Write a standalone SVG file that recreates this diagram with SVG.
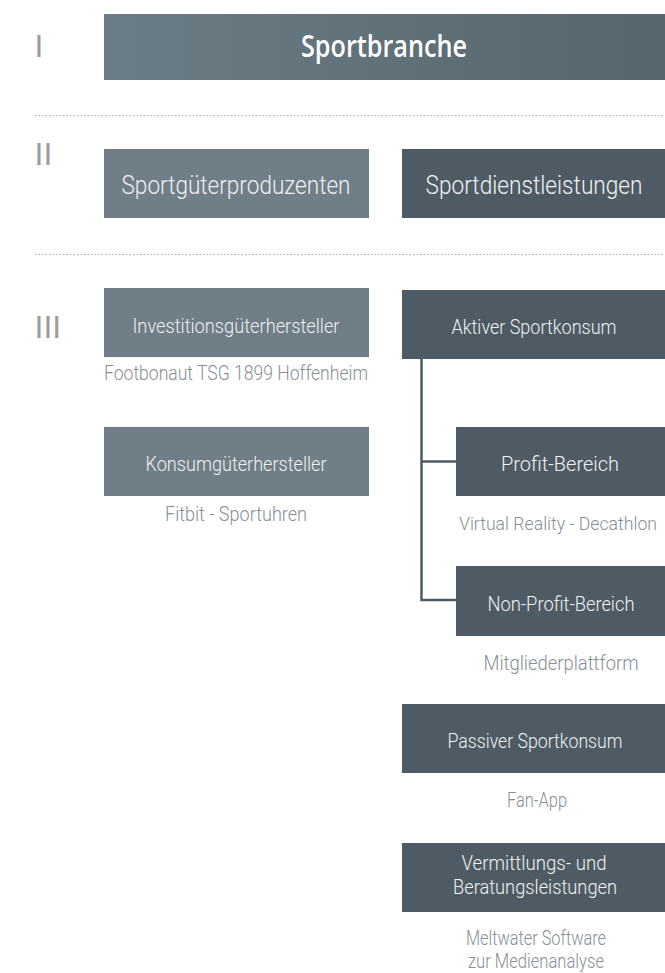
<svg xmlns="http://www.w3.org/2000/svg" width="665" height="973" viewBox="0 0 665 973">
<defs>
<linearGradient id="tg" x1="0" y1="0" x2="1" y2="0">
<stop offset="0" stop-color="#6b7d86"/>
<stop offset="1" stop-color="#56656e"/>
</linearGradient>
<style>
.t{font-family:Roboto,"Liberation Sans",sans-serif;font-weight:300;fill:#eef1f2;text-anchor:middle;font-size:20px}
.big{font-size:25px}
.h{font-family:"Open Sans",Roboto,sans-serif;font-weight:600;fill:#ffffff;text-anchor:middle;font-size:30px}
.c{font-family:Roboto,"Liberation Sans",sans-serif;font-weight:300;fill:#878f95;text-anchor:middle;font-size:20px}
.cs{font-size:18px}
.r{font-family:"Liberation Sans",sans-serif;font-weight:400;fill:#9c9c9c;font-size:32px}
.l{fill:#6f7e87}
.d{fill:#4e5b64}
.dot{stroke:#aab1b6;stroke-width:1;stroke-dasharray:1.5 2}
.con{stroke:#4e5b64;stroke-width:2.5;fill:none}
</style>
</defs>
<rect width="665" height="973" fill="#ffffff"/>
<text class="r" x="34.5" y="57">I</text>
<text class="r" x="34.5" y="165">II</text>
<text class="r" x="34.5" y="337.5">III</text>
<line class="dot" x1="35" y1="115.5" x2="665" y2="115.5"/>
<line class="dot" x1="35" y1="254.5" x2="665" y2="254.5"/>
<g id="connectors">
<polyline class="con" points="421.5,359 421.5,600 456,600"/>
<line class="con" x1="421.5" y1="461.5" x2="456" y2="461.5"/>
</g>
<g id="sportbranche">
<rect x="104" y="14" width="561" height="66" fill="url(#tg)"/>
<text class="h" x="384" y="57" textLength="166" lengthAdjust="spacingAndGlyphs">Sportbranche</text>
</g>
<g id="sportgueterproduzenten">
<rect class="l" x="104" y="149" width="265" height="69"/>
<text class="t big" x="236" y="194" textLength="229" lengthAdjust="spacingAndGlyphs">Sportgüterproduzenten</text>
</g>
<g id="sportdienstleistungen">
<rect class="d" x="402" y="149" width="263" height="69"/>
<text class="t big" x="534" y="194" textLength="217" lengthAdjust="spacingAndGlyphs">Sportdienstleistungen</text>
</g>
<g id="investitionsgueterhersteller">
<rect class="l" x="104" y="288" width="265" height="69"/>
<text class="t" x="236" y="332.5" textLength="207" lengthAdjust="spacingAndGlyphs">Investitionsgüterhersteller</text>
<text class="c" x="236" y="380" textLength="264" lengthAdjust="spacingAndGlyphs">Footbonaut TSG 1899 Hoffenheim</text>
</g>
<g id="konsumgueterhersteller">
<rect class="l" x="104" y="427" width="265" height="69"/>
<text class="t" x="236" y="471" textLength="181" lengthAdjust="spacingAndGlyphs">Konsumgüterhersteller</text>
<text class="c" x="236" y="521" textLength="142" lengthAdjust="spacingAndGlyphs">Fitbit - Sportuhren</text>
</g>
<g id="aktiver">
<rect class="d" x="402" y="290" width="263" height="69"/>
<text class="t" x="534" y="334" textLength="165" lengthAdjust="spacingAndGlyphs">Aktiver Sportkonsum</text>
</g>
<g id="profit">
<rect class="d" x="456" y="427" width="209" height="69"/>
<text class="t" x="560" y="471" textLength="118" lengthAdjust="spacingAndGlyphs">Profit-Bereich</text>
<text class="c cs" x="558" y="530" textLength="198" lengthAdjust="spacingAndGlyphs">Virtual Reality - Decathlon</text>
</g>
<g id="nonprofit">
<rect class="d" x="456" y="566" width="209" height="70"/>
<text class="t" x="561" y="610.5" textLength="147" lengthAdjust="spacingAndGlyphs">Non-Profit-Bereich</text>
<text class="c" x="561" y="670" textLength="155" lengthAdjust="spacingAndGlyphs">Mitgliederplattform</text>
</g>
<g id="passiver">
<rect class="d" x="402" y="704" width="263" height="69"/>
<text class="t" x="535" y="748" textLength="175" lengthAdjust="spacingAndGlyphs">Passiver Sportkonsum</text>
<text class="c" x="537" y="807" textLength="60" lengthAdjust="spacingAndGlyphs">Fan-App</text>
</g>
<g id="vermittlung">
<rect class="d" x="402" y="843" width="263" height="69"/>
<text class="t" x="534" y="870" textLength="145" lengthAdjust="spacingAndGlyphs">Vermittlungs- und</text>
<text class="t" x="535" y="894" textLength="164" lengthAdjust="spacingAndGlyphs">Beratungsleistungen</text>
<text class="c" x="536" y="945" textLength="140" lengthAdjust="spacingAndGlyphs">Meltwater Software</text>
<text class="c" x="536" y="968" textLength="136" lengthAdjust="spacingAndGlyphs">zur Medienanalyse</text>
</g>
</svg>
